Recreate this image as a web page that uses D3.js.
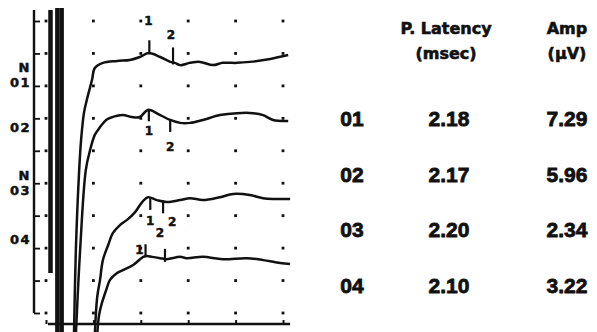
<!DOCTYPE html>
<html>
<head>
<meta charset="utf-8">
<script src="https://cdn.jsdelivr.net/npm/d3@7"></script>
<style>
  body { margin: 0; background: #fff; }
</style>
</head>
<body>
<div id="chart"></div>
<script>
// Table values
const channels = ['01', '02', '03', '04']
const latency = [2.18, 2.17, 2.20, 2.10]      // msec, also position of peak marker 1
const amplitude = [7.29, 5.96, 2.34, 3.22]    // µV
const peak2 = [2.68, 2.62, 2.47, 2.51]        // msec, position of marker 2

// Waveforms as [time (ms), vertical position in grid divisions from the top row]
const trace01 = [[0.59, 9.68], [0.63, 7.06], [0.70, 4.59], [0.74, 3.67], [0.80, 2.84], [0.86, 2.44],
  [0.97, 1.82], [1.03, 1.45], [1.20, 1.29], [1.50, 1.23], [1.77, 1.20], [1.98, 1.11], [2.17, 0.99],
  [2.41, 1.11], [2.62, 1.26], [2.72, 1.29], [2.83, 1.36], [3.04, 1.29], [3.25, 1.26], [3.52, 1.36],
  [3.73, 1.29], [4.03, 1.29], [4.30, 1.26], [4.73, 1.17], [5.11, 1.05]]
const trace02 = [[0.63, 9.68], [0.72, 7.06], [0.84, 4.59], [0.93, 3.98], [1.03, 3.51], [1.14, 3.27],
  [1.27, 3.05], [1.35, 2.99], [1.62, 2.90], [1.81, 2.96], [1.98, 2.96], [2.15, 2.74], [2.41, 2.90],
  [2.62, 3.05], [2.83, 3.14], [3.04, 3.14], [3.31, 3.05], [3.67, 2.90], [4.03, 2.84], [4.37, 2.84],
  [4.58, 2.90], [4.79, 3.05], [5.11, 3.08]]
const trace03 = [[1.03, 9.68], [1.08, 8.51], [1.14, 7.98], [1.20, 7.37], [1.31, 6.91], [1.41, 6.54],
  [1.56, 6.29], [1.71, 6.13], [1.88, 5.89], [2.03, 5.58], [2.15, 5.43], [2.34, 5.52], [2.55, 5.58],
  [2.83, 5.52], [3.04, 5.46], [3.31, 5.52], [3.67, 5.43], [3.95, 5.33], [4.30, 5.36], [4.58, 5.46],
  [5.15, 5.49]]
const trace04 = [[1.08, 9.68], [1.12, 9.06], [1.18, 8.69], [1.27, 8.29], [1.35, 7.98], [1.50, 7.77],
  [1.62, 7.68], [1.84, 7.52], [2.05, 7.27], [2.13, 7.24], [2.24, 7.27], [2.41, 7.31], [2.55, 7.34],
  [2.83, 7.27], [2.97, 7.31], [3.31, 7.27], [3.73, 7.34], [4.24, 7.31], [4.58, 7.37], [4.94, 7.46],
  [5.15, 7.49]]
const traces = [trace01, trace02, trace03, trace04]

// Stimulus artifact bars: [time (ms), top division, bottom division]
const artifacts = [[0.095, -0.34, 7.77], [0.24, -0.40, 9.7], [0.33, -0.40, 9.7]]

// Grid (1 ms x 1 division)
const gridMs = [0, 1, 2, 3, 4, 5]
const gridDiv = [0, 1, 2, 3, 4, 5, 6, 7, 8, 9]

// Left axis channel labels: [label, division]
const axisLabels = [['N', 1.43], ['01', 1.90], ['02', 3.27], ['N', 4.75], ['03', 5.21], ['04', 6.72]]

const width = 597
const height = 332

const x = d3.scaleLinear().domain([0, 5]).range([46, 283])
const y = d3.scaleLinear().domain([0, 9]).range([21, 313])

const svg = d3.select('#chart')
  .append('svg')
  .attr('width', width)
  .attr('height', height)
  .attr('viewBox', [0, 0, width, height])
  .style('background', '#fff')

const ink = '#111'

// Dot grid
svg.append('g')
  .selectAll('rect')
  .data(d3.cross(gridMs, gridDiv))
  .join('rect')
  .attr('x', d => x(d[0]) - 1.4)
  .attr('y', d => y(d[1]) - 1.4)
  .attr('width', 2.8)
  .attr('height', 2.8)
  .attr('fill', ink)

// Left axis with ticks
const yAxis = d3.axisRight(y)
  .tickValues(gridDiv)
  .tickSize(6)
  .tickFormat('')
svg.append('g')
  .attr('transform', 'translate(34,0)')
  .call(yAxis)
  .call(g => g.select('.domain').remove())
  .call(g => g.selectAll('.tick line').attr('stroke', ink).attr('stroke-width', 1.8))
svg.append('line')
  .attr('x1', 34).attr('x2', 34)
  .attr('y1', y(-0.34)).attr('y2', y(9))
  .attr('stroke', ink)
  .attr('stroke-width', 2.4)

svg.append('g')
  .selectAll('text')
  .data(axisLabels)
  .join('text')
  .attr('x', 31)
  .attr('y', d => y(d[1]) + 4.8)
  .attr('text-anchor', 'end')
  .attr('font-family', 'DejaVu Sans')
  .attr('font-weight', 'bold')
  .attr('font-size', 13)
  .attr('letter-spacing', 1.5)
  .attr('fill', ink)
  .attr('stroke', ink)
  .attr('stroke-width', 0.5)
  .text(d => d[0])

// Bottom baseline with column ticks
const xAxis = d3.axisTop(x)
  .tickValues(gridMs)
  .tickSize(4)
  .tickFormat('')
svg.append('g')
  .attr('transform', `translate(0,${y(9.34)})`)
  .call(xAxis)
  .call(g => g.select('.domain').remove())
  .call(g => g.selectAll('.tick line').attr('stroke', ink).attr('stroke-width', 2))
svg.append('line')
  .attr('x1', 48).attr('x2', x(5.15))
  .attr('y1', y(9.34)).attr('y2', y(9.34))
  .attr('stroke', ink)
  .attr('stroke-width', 2.4)

// Stimulus artifact
svg.append('g')
  .selectAll('line')
  .data(artifacts)
  .join('line')
  .attr('x1', d => x(d[0])).attr('x2', d => x(d[0]))
  .attr('y1', d => y(d[1])).attr('y2', d => y(d[2]))
  .attr('stroke', ink)
  .attr('stroke-width', 4.5)

// Waveforms
const line = d3.line()
  .x(d => x(d[0]))
  .y(d => y(d[1]))
  .curve(d3.curveCatmullRom.alpha(0.5))

svg.append('g')
  .selectAll('path')
  .data(traces)
  .join('path')
  .attr('d', line)
  .attr('fill', 'none')
  .attr('stroke', ink)
  .attr('stroke-width', 2.5)
  .attr('stroke-linejoin', 'round')

// value of a trace at time t (to sit the markers on the line)
const valueAt = (trace, t) => {
  const i = d3.bisector(d => d[0]).left(trace, t, 1)
  const a = trace[i - 1], b = trace[i]
  return a[1] + (b[1] - a[1]) * (t - a[0]) / (b[0] - a[0])
}

// Peak markers: tick extent and label offset for each trace (pixels)
const markerLayout = [
  [{ y1: -13, y2: 1, lx: -1, ly: -33 }, { y1: -15, y2: 2, lx: -2, ly: -28 }],
  [{ y1: -1, y2: 11, lx: 0, ly: 20 }, { y1: -1, y2: 12, lx: 0, ly: 27 }],
  [{ y1: -1, y2: 12, lx: 0, ly: 23 }, { y1: -1, y2: 12, lx: 9, ly: 20 }],
  [{ y1: -12, y2: 1, lx: -6, ly: -7 }, { y1: -10, y2: 3, lx: -5, ly: -26 }]
]

traces.forEach((trace, i) => {
  const marks = [latency[i], peak2[i]]
  marks.forEach((t, k) => {
    const px = x(t), py = y(valueAt(trace, t))
    const m = markerLayout[i][k]
    svg.append('line')
      .attr('x1', px).attr('x2', px)
      .attr('y1', py + m.y1).attr('y2', py + m.y2)
      .attr('stroke', ink)
      .attr('stroke-width', 2.2)
    svg.append('text')
      .attr('x', px + m.lx)
      .attr('y', py + m.ly + 4.5)
      .attr('text-anchor', 'middle')
      .attr('font-family', 'DejaVu Sans')
      .attr('font-weight', 'bold')
      .attr('font-size', 12)
      .attr('fill', ink)
      .attr('stroke', ink)
      .attr('stroke-width', 0.5)
      .text(k + 1)
  })
})

// Table
const colX = { ch: 352, lat: 449, amp: 567 }
const head = svg.append('g')
  .attr('font-family', 'DejaVu Sans')
  .attr('font-weight', 'bold')
  .attr('font-size', 16)
  .attr('fill', ink)
  .attr('stroke', ink)
  .attr('stroke-width', 0.6)
  .attr('text-anchor', 'middle')
head.append('text').attr('x', colX.lat - 3).attr('y', 34).text('P. Latency')
head.append('text').attr('x', colX.lat - 3).attr('y', 59).text('(msec)')
head.append('text').attr('x', colX.amp).attr('y', 34).text('Amp')
head.append('text').attr('x', colX.amp).attr('y', 59).text('(µV)')

const rowY = d3.scalePoint().domain(channels).range([126, 293])
const rows = svg.append('g')
  .attr('font-family', 'Liberation Sans, Arial, sans-serif')
  .attr('font-weight', 'bold')
  .attr('font-size', 21)
  .attr('fill', ink)
  .attr('stroke', ink)
  .attr('stroke-width', 0.8)
  .attr('text-anchor', 'middle')
  .selectAll('g')
  .data(channels)
  .join('g')
  .attr('transform', d => `translate(0,${rowY(d)})`)
rows.append('text').attr('x', colX.ch).text(d => d)
rows.append('text').attr('x', colX.lat).text((d, i) => latency[i].toFixed(2))
rows.append('text').attr('x', colX.amp).text((d, i) => amplitude[i].toFixed(2))
</script>
</body>
</html>
